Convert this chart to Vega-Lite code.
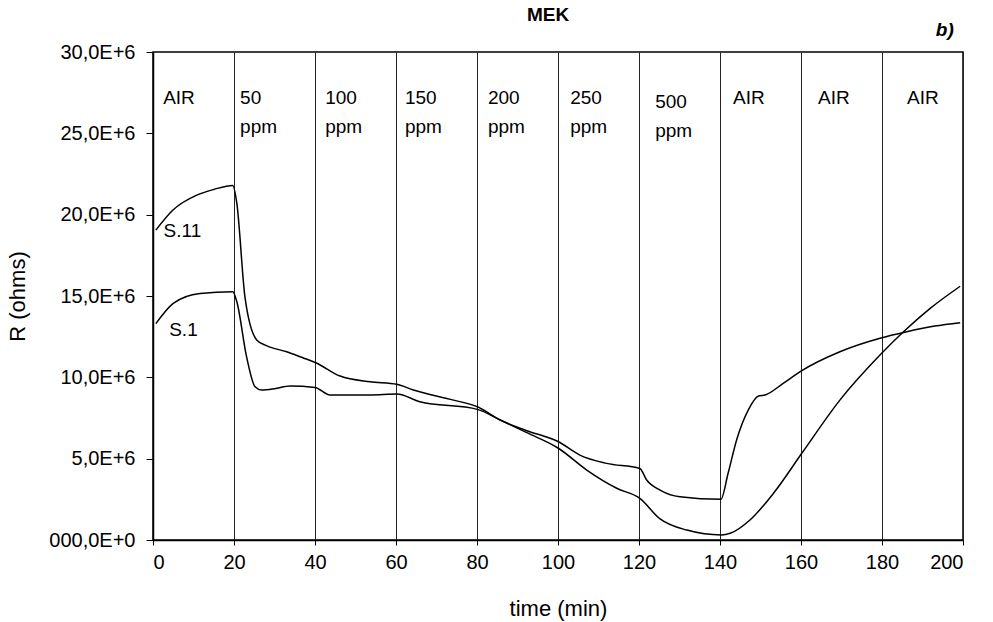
{
  "$schema": "https://vega.github.io/schema/vega-lite/v6.json",
  "autosize": "none",
  "width": 810,
  "height": 488,
  "padding": {"left": 153, "top": 52, "right": 30, "bottom": 82},
  "background": "white",
  "config": {
    "font": "Liberation Sans",
    "view": {"stroke": "black", "strokeWidth": 1.5},
    "axis": {"labelFont": "Liberation Sans", "titleFont": "Liberation Sans", "labelColor": "black", "titleColor": "black", "domainColor": "black", "tickColor": "black"}
  },
  "title": {"text": "MEK", "fontSize": 19, "fontWeight": "bold", "font": "Liberation Sans", "color": "black", "offset": -4, "dx": -10},
  "datasets": {
    "curves": [
      {"s": "S.11", "t": 0.7, "R": 19050000},
      {"s": "S.11", "t": 5, "R": 20300000},
      {"s": "S.11", "t": 10.8, "R": 21200000},
      {"s": "S.11", "t": 15, "R": 21550000},
      {"s": "S.11", "t": 19.7, "R": 21800000},
      {"s": "S.11", "t": 20.7, "R": 20700000},
      {"s": "S.11", "t": 22.7, "R": 14950000},
      {"s": "S.11", "t": 25.6, "R": 12300000},
      {"s": "S.11", "t": 28, "R": 11950000},
      {"s": "S.11", "t": 33, "R": 11570000},
      {"s": "S.11", "t": 37, "R": 11200000},
      {"s": "S.11", "t": 40.2, "R": 10900000},
      {"s": "S.11", "t": 46.2, "R": 10080000},
      {"s": "S.11", "t": 53.6, "R": 9730000},
      {"s": "S.11", "t": 60.2, "R": 9570000},
      {"s": "S.11", "t": 64.3, "R": 9220000},
      {"s": "S.11", "t": 74.2, "R": 8600000},
      {"s": "S.11", "t": 80.1, "R": 8190000},
      {"s": "S.11", "t": 85.7, "R": 7380000},
      {"s": "S.11", "t": 92.3, "R": 6720000},
      {"s": "S.11", "t": 100.1, "R": 6040000},
      {"s": "S.11", "t": 105.4, "R": 5220000},
      {"s": "S.11", "t": 112, "R": 4710000},
      {"s": "S.11", "t": 120.2, "R": 4400000},
      {"s": "S.11", "t": 121.9, "R": 3690000},
      {"s": "S.11", "t": 125.2, "R": 3070000},
      {"s": "S.11", "t": 130.1, "R": 2660000},
      {"s": "S.11", "t": 140.2, "R": 2500000},
      {"s": "S.11", "t": 142, "R": 4100000},
      {"s": "S.11", "t": 144.1, "R": 6150000},
      {"s": "S.11", "t": 147, "R": 8000000},
      {"s": "S.11", "t": 149.5, "R": 8850000},
      {"s": "S.11", "t": 151.1, "R": 8910000},
      {"s": "S.11", "t": 155.6, "R": 9630000},
      {"s": "S.11", "t": 159.8, "R": 10350000},
      {"s": "S.11", "t": 169.6, "R": 11570000},
      {"s": "S.11", "t": 179.5, "R": 12400000},
      {"s": "S.11", "t": 186.1, "R": 12800000},
      {"s": "S.11", "t": 193, "R": 13150000},
      {"s": "S.11", "t": 199.3, "R": 13360000},
      {"s": "S.1", "t": 0.7, "R": 13300000},
      {"s": "S.1", "t": 5, "R": 14550000},
      {"s": "S.1", "t": 11.6, "R": 15160000},
      {"s": "S.1", "t": 19.7, "R": 15260000},
      {"s": "S.1", "t": 20.7, "R": 14650000},
      {"s": "S.1", "t": 23.1, "R": 11270000},
      {"s": "S.1", "t": 25.2, "R": 9420000},
      {"s": "S.1", "t": 26.8, "R": 9220000},
      {"s": "S.1", "t": 30, "R": 9300000},
      {"s": "S.1", "t": 33.8, "R": 9470000},
      {"s": "S.1", "t": 40, "R": 9380000},
      {"s": "S.1", "t": 43.7, "R": 8910000},
      {"s": "S.1", "t": 53.6, "R": 8910000},
      {"s": "S.1", "t": 60.2, "R": 8970000},
      {"s": "S.1", "t": 65.9, "R": 8500000},
      {"s": "S.1", "t": 80.1, "R": 8030000},
      {"s": "S.1", "t": 85.7, "R": 7380000},
      {"s": "S.1", "t": 92.3, "R": 6600000},
      {"s": "S.1", "t": 100.1, "R": 5640000},
      {"s": "S.1", "t": 107.1, "R": 4300000},
      {"s": "S.1", "t": 114.5, "R": 3180000},
      {"s": "S.1", "t": 120.2, "R": 2560000},
      {"s": "S.1", "t": 125.2, "R": 1300000},
      {"s": "S.1", "t": 131.8, "R": 610000},
      {"s": "S.1", "t": 140.4, "R": 310000},
      {"s": "S.1", "t": 142.5, "R": 410000},
      {"s": "S.1", "t": 147.4, "R": 1230000},
      {"s": "S.1", "t": 153.2, "R": 2870000},
      {"s": "S.1", "t": 160.2, "R": 5330000},
      {"s": "S.1", "t": 169.6, "R": 8600000},
      {"s": "S.1", "t": 179.5, "R": 11370000},
      {"s": "S.1", "t": 185.3, "R": 12800000},
      {"s": "S.1", "t": 191.9, "R": 14240000},
      {"s": "S.1", "t": 199.3, "R": 15600000}
    ],
    "labels": [
      {"t": 2.5, "R": 27200000, "label": "AIR"},
      {"t": 21.5, "R": 27200000, "label": "50\nppm"},
      {"t": 42.5, "R": 27200000, "label": "100\nppm"},
      {"t": 62.2, "R": 27200000, "label": "150\nppm"},
      {"t": 82.7, "R": 27200000, "label": "200\nppm"},
      {"t": 103, "R": 27200000, "label": "250\nppm"},
      {"t": 124, "R": 26900000, "label": "500\nppm"},
      {"t": 143.2, "R": 27200000, "label": "AIR"},
      {"t": 164.2, "R": 27200000, "label": "AIR"},
      {"t": 186.2, "R": 27200000, "label": "AIR"},
      {"t": 2.6, "R": 19000000, "label": "S.11"},
      {"t": 4, "R": 12900000, "label": "S.1"}
    ],
    "corner": [
      {"t": 193.3, "R": 31350000, "label": "b)"}
    ]
  },
  "encoding": {
    "x": {
      "field": "t", "type": "quantitative",
      "scale": {"domain": [0, 200], "nice": false},
      "axis": {
        "title": "time (min)", "titleFontSize": 22, "titleFontWeight": "normal",
        "titleY": 68, "titleBaseline": "middle",
        "values": [0, 20, 40, 60, 80, 100, 120, 140, 160, 180, 200],
        "labelFontSize": 20, "labelPadding": 7, "tickSize": 5,
        "domainWidth": 1.5, "grid": true, "gridColor": "#222", "gridWidth": 1, "gridOpacity": 1
      }
    },
    "y": {
      "field": "R", "type": "quantitative",
      "scale": {"domain": [0, 30000000], "nice": false},
      "axis": {
        "title": "R (ohms)", "titleFontSize": 22, "titleFontWeight": "normal",
        "titleX": -136, "titleBaseline": "middle",
        "values": [0, 5000000, 10000000, 15000000, 20000000, 25000000, 30000000],
        "labelExpr": "datum.value == 0 ? '000,0E+0' : replace(format(datum.value / 1000000, '.1f'), '.', ',') + 'E+6'",
        "labelFontSize": 20, "labelPadding": 11, "tickSize": 7,
        "domainWidth": 1.5, "grid": false
      }
    }
  },
  "layer": [
    {
      "data": {"name": "curves"},
      "mark": {"type": "line", "color": "black", "strokeWidth": 1.5, "interpolate": "monotone"},
      "encoding": {"detail": {"field": "s"}}
    },
    {
      "data": {"name": "labels"},
      "mark": {"type": "text", "align": "left", "baseline": "middle", "fontSize": 19, "lineBreak": "\n", "lineHeight": 29, "color": "black", "font": "Liberation Sans", "clip": false},
      "encoding": {"text": {"field": "label"}}
    },
    {
      "data": {"name": "corner"},
      "mark": {"type": "text", "align": "left", "baseline": "middle", "fontSize": 19, "fontWeight": "bold", "fontStyle": "italic", "color": "black", "font": "Liberation Sans", "clip": false},
      "encoding": {"text": {"field": "label"}}
    }
  ]
}
